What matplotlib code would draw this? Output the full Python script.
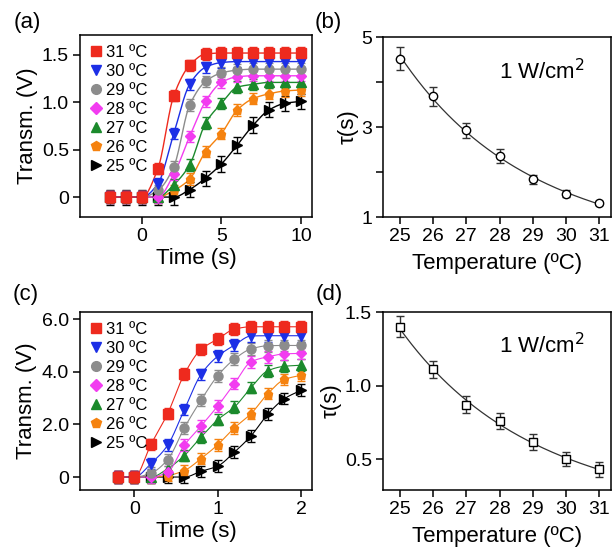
import matplotlib
matplotlib.use("Agg")
import matplotlib.pyplot as plt
import numpy as np
from matplotlib.lines import Line2D

plt.rcParams['font.family'] = ['Liberation Sans', 'DejaVu Sans']

# == dados ==
temps = [31, 30, 29, 28, 27, 26, 25]
cores = ['#ee2a1e', '#1c2fe6', '#8c8c8c', '#f23cf0', '#1b8a2c', '#f5820f', '#000000']
marcadores = ['s', 'v', 'o', 'D', '^', 'p', '>']
rotulos = ['31 ºC', '30 ºC', '29 ºC', '28 ºC', '27 ºC', '26 ºC', '25 ºC']

# (a) transmissão x tempo, 1 W/cm2
tempo_a = [-2, -1, 0, 1, 2, 3, 4, 5, 6, 7, 8, 9, 10]
trans_a = [
    [0, 0, 0, 0.30, 1.07, 1.39, 1.51, 1.52, 1.52, 1.52, 1.52, 1.52, 1.52],
    [0, 0, 0, 0.14, 0.67, 1.19, 1.37, 1.42, 1.43, 1.43, 1.43, 1.43, 1.43],
    [0, 0, 0, 0.07, 0.32, 0.97, 1.22, 1.31, 1.34, 1.35, 1.35, 1.35, 1.35],
    [0, 0, 0, 0.00, 0.24, 0.64, 1.01, 1.21, 1.27, 1.28, 1.28, 1.28, 1.28],
    [0, 0, 0, 0.00, 0.13, 0.34, 0.78, 0.99, 1.16, 1.19, 1.21, 1.21, 1.21],
    [0, 0, 0, 0.00, 0.07, 0.19, 0.48, 0.67, 0.92, 1.04, 1.09, 1.12, 1.13],
    [0, 0, 0, 0.00, 0.00, 0.08, 0.20, 0.35, 0.55, 0.76, 0.92, 0.99, 1.01],
]
erro_a = [0.06, 0.06, 0.06, 0.06, 0.06, 0.06, 0.08]

# (c) transmissão x tempo, potência maior
tempo_c = [-0.2, 0, 0.2, 0.4, 0.6, 0.8, 1.0, 1.2, 1.4, 1.6, 1.8, 2.0]
trans_c = [
    [0, 0, 1.24, 2.41, 3.91, 4.85, 5.24, 5.62, 5.71, 5.71, 5.71, 5.71],
    [0, 0, 0.51, 1.21, 2.56, 3.90, 4.59, 5.01, 5.36, 5.37, 5.37, 5.37],
    [0, 0, 0.15, 0.66, 1.87, 2.92, 3.85, 4.48, 4.87, 4.99, 5.00, 5.00],
    [0, 0, 0.00, 0.19, 1.21, 1.94, 2.70, 3.55, 4.38, 4.57, 4.68, 4.70],
    [0, 0, 0.00, 0.32, 0.82, 1.52, 2.18, 2.66, 3.40, 4.04, 4.21, 4.25],
    [0, 0, 0.00, 0.06, 0.25, 0.70, 1.23, 1.87, 2.41, 3.17, 3.71, 3.87],
    [0, 0, 0.00, 0.00, 0.00, 0.22, 0.42, 0.95, 1.57, 2.39, 2.98, 3.30],
]
erro_c = [0.22, 0.22, 0.22, 0.22, 0.22, 0.22, 0.22]

# (b) e (d) constante de tempo x temperatura
temp_tau = [25, 26, 27, 28, 29, 30, 31]
tau_b = [4.52, 3.68, 2.93, 2.36, 1.84, 1.52, 1.31]
erro_b = [0.25, 0.21, 0.17, 0.15, 0.10, 0.07, 0.05]
tau_d = [1.40, 1.11, 0.87, 0.76, 0.615, 0.50, 0.43]
erro_d = [0.07, 0.057, 0.057, 0.056, 0.055, 0.05, 0.05]

TAM_TICK = 14
TAM_EIXO = 16


# Curva suave (Hermite monotônica) passando pelos pontos medidos
def suave(x, y, n=300):
    x = np.asarray(x, float)
    y = np.asarray(y, float)
    h = np.diff(x)
    d = np.diff(y) / h
    m = np.zeros_like(y)
    m[0] = d[0]
    m[-1] = d[-1]
    for k in range(1, len(x) - 1):
        if d[k - 1] * d[k] > 0:
            w1 = 2 * h[k] + h[k - 1]
            w2 = h[k] + 2 * h[k - 1]
            m[k] = (w1 + w2) / (w1 / d[k - 1] + w2 / d[k])
    xs = np.linspace(x[0], x[-1], n)
    i = np.clip(np.searchsorted(x, xs) - 1, 0, len(x) - 2)
    t = (xs - x[i]) / h[i]
    h00 = 2 * t**3 - 3 * t**2 + 1
    h10 = t**3 - 2 * t**2 + t
    h01 = -2 * t**3 + 3 * t**2
    h11 = t**3 - t**2
    ys = h00 * y[i] + h10 * h[i] * m[i] + h01 * y[i + 1] + h11 * h[i] * m[i + 1]
    return xs, ys


def estilo(ax):
    for s in ax.spines.values():
        s.set_linewidth(1.1)
    ax.tick_params(direction='out', length=5, width=1.1, labelsize=TAM_TICK, pad=3)


def painel_transm(ax, tempo, dados, erros, lw):
    # desenha de 25 ºC até 31 ºC para o vermelho ficar por cima
    for k in range(len(temps) - 1, -1, -1):
        xs, ys = suave(tempo, dados[k])
        ax.plot(xs, ys, color=cores[k], lw=lw, zorder=2)
        ax.errorbar(tempo, dados[k], yerr=erros[k], fmt=marcadores[k],
                    color=cores[k], ms=6.5 if marcadores[k] != 'D' else 5.5,
                    capsize=3, elinewidth=1, capthick=1, zorder=3)
    alcas = [Line2D([], [], ls='none', marker=marcadores[k], color=cores[k],
                    ms=7 if marcadores[k] != 'D' else 6) for k in range(len(temps))]
    ax.legend(alcas, rotulos, loc='upper left', frameon=False, fontsize=12,
              handlelength=0.7, handletextpad=0.25, labelspacing=0.24,
              borderaxespad=0.3, borderpad=0.3)
    ax.set_ylabel('Transm. (V)', fontsize=TAM_EIXO, labelpad=3)
    ax.set_xlabel('Time (s)', fontsize=TAM_EIXO, labelpad=2)
    estilo(ax)


def painel_tau(ax, y, erro, marcador):
    coef = np.polyfit(temp_tau, np.log(y), 2)
    xs = np.linspace(25, 31, 200)
    ax.plot(xs, np.exp(np.polyval(coef, xs)), color='#333333', lw=0.9, zorder=2)
    ax.errorbar(temp_tau, y, yerr=erro, fmt=marcador, mfc='white', mec='black',
                ms=6, mew=1, color='#333333', ecolor='#333333', capsize=3,
                elinewidth=1, capthick=1, zorder=3)
    ax.set_xlim(24.5, 31.35)
    ax.set_xticks(temp_tau)
    ax.set_xlabel('Temperature (ºC)', fontsize=TAM_EIXO, labelpad=6)
    ax.set_ylabel('τ(s)', fontsize=TAM_EIXO, labelpad=2)
    ax.text(0.51, 0.81, '1 W/cm$^{2}$', transform=ax.transAxes, fontsize=16,
            ha='left', va='center')
    estilo(ax)


fig = plt.figure(figsize=(6.13, 5.56), dpi=100)

ax_a = fig.add_axes([0.1305, 0.6097, 0.3785, 0.3273])
ax_b = fig.add_axes([0.6248, 0.6097, 0.3720, 0.3237])
ax_c = fig.add_axes([0.1305, 0.1187, 0.3785, 0.3201])
ax_d = fig.add_axes([0.6248, 0.1187, 0.3720, 0.3201])

painel_transm(ax_a, tempo_a, trans_a, erro_a, 1.0)
ax_a.set_xlim(-3.9, 10.7)
ax_a.set_ylim(-0.21, 1.71)
ax_a.set_xticks([0, 5, 10])
ax_a.set_yticks([0, 0.5, 1.0, 1.5])
ax_a.set_yticklabels(['0', '0.5', '1.0', '1.5'])

painel_transm(ax_c, tempo_c, trans_c, erro_c, 0.8)
ax_c.set_xlim(-0.65, 2.13)
ax_c.set_ylim(-0.49, 6.27)
ax_c.set_xticks([0, 1, 2])
ax_c.set_yticks([0, 2, 4, 6])
ax_c.set_yticklabels(['0', '2.0', '4.0', '6.0'])

painel_tau(ax_b, tau_b, erro_b, 'o')
ax_b.set_ylim(1, 5)
ax_b.set_yticks([1, 2, 3, 4, 5])
ax_b.set_yticklabels(['1', '', '3', '', '5'])

painel_tau(ax_d, tau_d, erro_d, 's')
ax_d.set_ylim(0.29, 1.5)
ax_d.set_yticks([0.5, 1.0, 1.5])
ax_d.set_yticklabels(['0.5', '1.0', '1.5'])

for txt, x, y in [('(a)', 0.022, 0.96), ('(b)', 0.513, 0.96),
                  ('(c)', 0.020, 0.47), ('(d)', 0.515, 0.47)]:
    fig.text(x, y, txt, fontsize=16, ha='left', va='center')

fig.savefig('out.png', dpi=100)
